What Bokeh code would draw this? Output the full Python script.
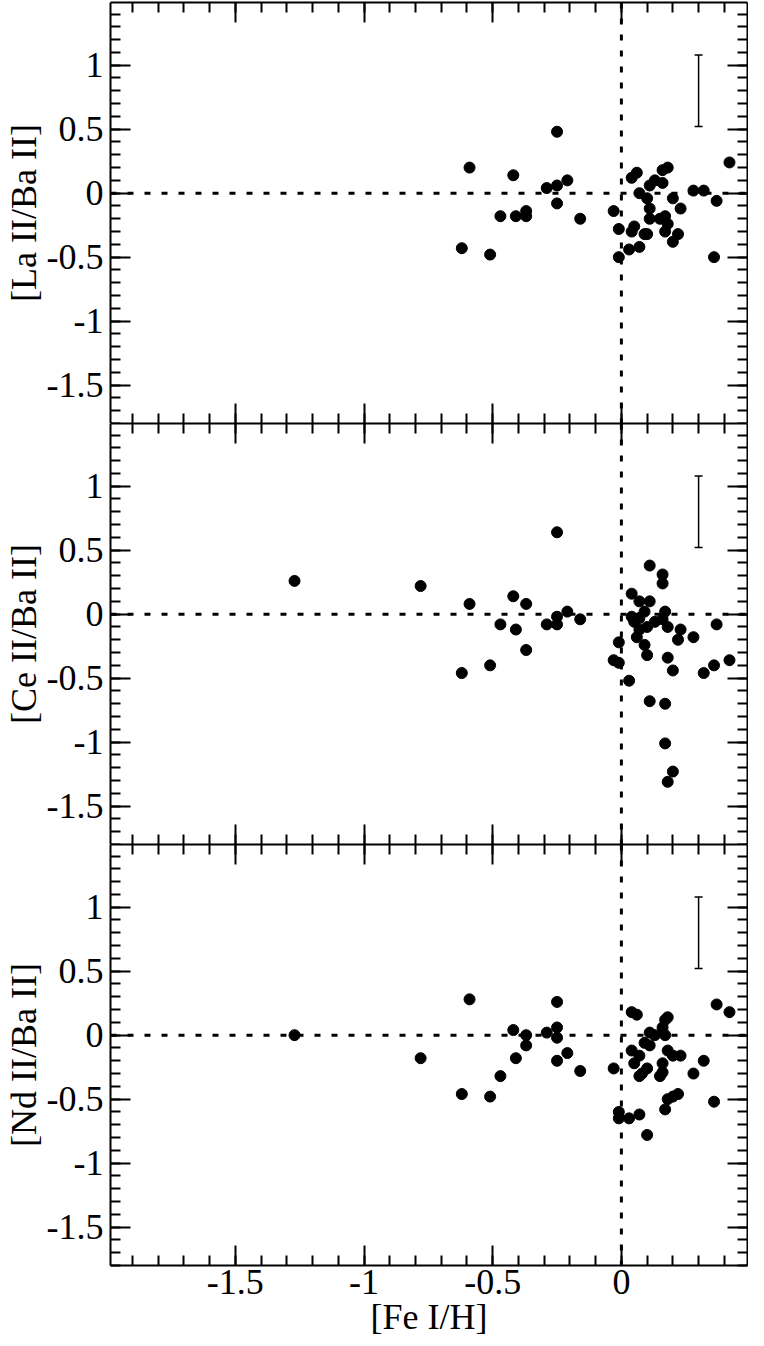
from bokeh.plotting import figure
from bokeh.layouts import column
from bokeh.models import (ColumnDataSource, CustomJSTickFormatter, LinearAxis,
                          Range1d, SingleIntervalTicker, Span, TeeHead, Whisker)
from bokeh.embed import file_html
from bokeh.resources import INLINE

FONT = "Liberation Serif"

# [La II/Ba II] vs [Fe I/H]
fe_la = [-0.62, -0.59, -0.51, -0.47, -0.42, -0.41, -0.37, -0.37, -0.29, -0.25,
         -0.25, -0.25, -0.21, -0.16, -0.03, -0.01, -0.01, 0.03, 0.04, 0.06,
         0.04, 0.05, 0.07, 0.07, 0.09, 0.10, 0.10, 0.11, 0.11, 0.11,
         0.13, 0.16, 0.16, 0.18, 0.15, 0.17, 0.18, 0.17, 0.20, 0.20,
         0.22, 0.23, 0.28, 0.32, 0.36, 0.37, 0.42]
la_ba = [-0.43, 0.20, -0.48, -0.18, 0.14, -0.18, -0.14, -0.18, 0.04, 0.48,
         0.06, -0.08, 0.10, -0.20, -0.14, -0.28, -0.50, -0.44, 0.12, 0.16,
         -0.30, -0.26, -0.42, 0.00, -0.32, -0.32, -0.04, -0.12, -0.20, 0.06,
         0.10, 0.08, 0.18, 0.20, -0.20, -0.18, -0.24, -0.30, -0.04, -0.38,
         -0.32, -0.12, 0.02, 0.02, -0.50, -0.06, 0.24]

# [Ce II/Ba II] vs [Fe I/H]
fe_ce = [-1.27, -0.78, -0.62, -0.59, -0.51, -0.47, -0.42, -0.41, -0.37, -0.37,
         -0.29, -0.25, -0.25, -0.25, -0.21, -0.16, 0.11, 0.16, 0.16, 0.04,
         0.07, 0.11, 0.09, 0.17, 0.04, 0.05, 0.07, 0.13, 0.16, 0.10,
         0.07, 0.18, 0.06, 0.23, 0.22, 0.28, 0.37, -0.01, 0.09, 0.10,
         -0.03, -0.01, 0.03, 0.18, 0.20, 0.32, 0.36, 0.42, 0.11, 0.17,
         0.17, 0.20, 0.18]
ce_ba = [0.26, 0.22, -0.46, 0.08, -0.40, -0.08, 0.14, -0.12, 0.08, -0.28,
         -0.08, 0.64, -0.02, -0.08, 0.02, -0.04, 0.38, 0.31, 0.24, 0.16,
         0.10, 0.10, 0.02, 0.02, -0.02, -0.06, -0.03, -0.06, -0.04, -0.10,
         -0.12, -0.10, -0.18, -0.12, -0.20, -0.18, -0.08, -0.22, -0.24, -0.32,
         -0.36, -0.38, -0.52, -0.34, -0.44, -0.46, -0.40, -0.36, -0.68, -0.70,
         -1.01, -1.23, -1.31]

# [Nd II/Ba II] vs [Fe I/H]
fe_nd = [-1.27, -0.78, -0.62, -0.59, -0.51, -0.47, -0.42, -0.41, -0.37, -0.37,
         -0.29, -0.25, -0.25, -0.25, -0.25, -0.21, -0.16, -0.03, 0.04, 0.06,
         0.18, 0.17, 0.16, 0.11, 0.13, 0.17, 0.09, 0.11, 0.04, 0.07,
         0.18, 0.20, 0.23, 0.32, 0.05, 0.16, 0.10, 0.08, 0.07, 0.16,
         0.15, 0.28, 0.37, 0.42, 0.18, 0.20, 0.22, 0.36, 0.17, -0.01,
         -0.01, 0.03, 0.07, 0.10]
nd_ba = [0.00, -0.18, -0.46, 0.28, -0.48, -0.32, 0.04, -0.18, 0.00, -0.08,
         0.02, 0.26, 0.06, -0.02, -0.20, -0.14, -0.28, -0.26, 0.18, 0.16,
         0.14, 0.12, 0.06, 0.02, 0.00, 0.00, -0.06, -0.08, -0.12, -0.16,
         -0.12, -0.16, -0.16, -0.20, -0.22, -0.22, -0.26, -0.30, -0.32, -0.29,
         -0.32, -0.30, 0.24, 0.18, -0.50, -0.48, -0.46, -0.52, -0.58, -0.60,
         -0.65, -0.65, -0.62, -0.78]

# typical error bar
err_x = [0.30]
err_y = [0.80]
err_half = [0.28]

panels = [
    ("[La II/Ba II]", fe_la, la_ba),
    ("[Ce II/Ba II]", fe_ce, ce_ba),
    ("[Nd II/Ba II]", fe_nd, nd_ba),
]

x_range = Range1d(-1.985, 0.49)
fmt = CustomJSTickFormatter(code="return String(Math.round(tick * 10) / 10);")


def style_axis(axis, labels):
    axis.ticker = SingleIntervalTicker(interval=0.5, num_minor_ticks=5)
    axis.axis_line_width = 2
    axis.axis_line_color = "black"
    axis.major_tick_in = 20
    axis.major_tick_out = 0
    axis.minor_tick_in = 10
    axis.minor_tick_out = 0
    axis.major_tick_line_width = 2
    axis.minor_tick_line_width = 2
    axis.major_tick_line_color = "black"
    axis.minor_tick_line_color = "black"
    if labels:
        axis.formatter = fmt
        axis.major_label_text_font = FONT
        axis.major_label_text_font_size = "36px"
        axis.major_label_text_color = "black"
    else:
        # ticks only, no numbers
        axis.major_label_text_font_size = "1px"
        axis.major_label_text_color = None
        axis.major_label_standoff = 0


figs = []
for i, (label, xs, ys) in enumerate(panels):
    last = i == len(panels) - 1
    p = figure(width=748, frame_height=421, x_range=x_range,
               y_range=Range1d(-1.80, 1.49),
               output_backend="svg", toolbar_location=None, tools="",
               min_border_left=99, min_border_right=1,
               min_border_top=2 if i == 0 else 0, min_border_bottom=0)
    p.outline_line_color = None
    p.grid.grid_line_color = None

    style_axis(p.yaxis[0], True)
    p.yaxis.major_label_standoff = 7
    p.yaxis.axis_label = label
    p.yaxis.axis_label_text_font = FONT
    p.yaxis.axis_label_text_font_size = "36px"
    p.yaxis.axis_label_text_font_style = "normal"
    p.yaxis.axis_label_text_color = "black"
    p.yaxis.axis_label_standoff = 0

    style_axis(p.xaxis[0], last)
    if last:
        p.xaxis.major_label_standoff = 4
        p.xaxis.axis_label = "[Fe I/H]"
        p.xaxis.axis_label_text_font = FONT
        p.xaxis.axis_label_text_font_size = "36px"
        p.xaxis.axis_label_text_font_style = "normal"
        p.xaxis.axis_label_text_color = "black"
        p.xaxis.axis_label_standoff = 0

    right = LinearAxis()
    style_axis(right, False)
    p.add_layout(right, "right")
    top = LinearAxis()
    style_axis(top, False)
    p.add_layout(top, "above")

    p.add_layout(Span(location=0, dimension="width", line_color="black",
                      line_width=3, line_dash="6 11"))
    p.add_layout(Span(location=0, dimension="height", line_color="black",
                      line_width=3, line_dash="6 10"))

    src = ColumnDataSource(dict(x=xs, y=ys))
    p.scatter("x", "y", source=src, size=11, marker="circle",
              fill_color="black", line_color="black")

    esrc = ColumnDataSource(dict(
        x=err_x,
        lower=[c - h for c, h in zip(err_y, err_half)],
        upper=[c + h for c, h in zip(err_y, err_half)]))
    p.add_layout(Whisker(source=esrc, base="x", lower="lower", upper="upper",
                         dimension="height", line_width=1.5, line_color="black",
                         lower_head=TeeHead(size=8, line_width=1.5),
                         upper_head=TeeHead(size=8, line_width=1.5)))
    figs.append(p)

layout = column(*figs, spacing=0)
open("out.html", "w").write(file_html(layout, INLINE))
